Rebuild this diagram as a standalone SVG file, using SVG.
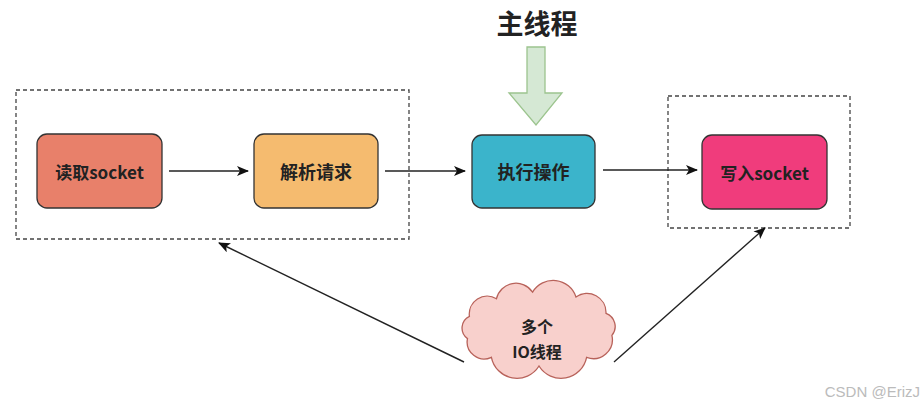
<svg xmlns="http://www.w3.org/2000/svg" width="923" height="406" viewBox="0 0 923 406">
<defs>
<style>
.lbl{font-family:"Noto Sans CJK SC","Liberation Sans",sans-serif;font-weight:bold;fill:#222;text-anchor:middle;dominant-baseline:central}
.node{stroke:#333;stroke-width:1.3}
.dash{fill:none;stroke:#444;stroke-width:1.3;stroke-dasharray:4 3}
.conn{fill:none;stroke:#222;stroke-width:1.4}
</style>
<marker id="ah" viewBox="0 0 12 10" refX="11" refY="5" markerWidth="12" markerHeight="10" markerUnits="userSpaceOnUse" orient="auto">
<path d="M0,0 L12,5 L0,10 L3,5 Z" fill="#111"/>
</marker>
</defs>
<rect width="923" height="406" fill="#fff"/>
<g id="group-left"><rect class="dash" x="16" y="90" width="393" height="149"/></g>
<g id="group-right"><rect class="dash" x="668" y="96" width="182" height="132"/></g>
<g id="connectors">
<line class="conn" x1="169" y1="171" x2="248" y2="171" marker-end="url(#ah)"/>
<line class="conn" x1="385" y1="171" x2="465" y2="171" marker-end="url(#ah)"/>
<line class="conn" x1="603" y1="170" x2="697" y2="170" marker-end="url(#ah)"/>
<line class="conn" x1="464" y1="362" x2="219" y2="243" marker-end="url(#ah)"/>
<line class="conn" x1="614" y1="362" x2="765" y2="228" marker-end="url(#ah)"/>
</g>
<g id="main-thread">
<text class="lbl" x="537" y="22" font-size="27">主线程</text>
<polygon points="527,47 545,47 545,93 562,93 536,125 509,93 527,93" fill="#D5E8D4" stroke="#9CC48E" stroke-width="1.3"/>
</g>
<g id="read-socket"><rect class="node" x="37" y="134" width="125" height="74" rx="10" fill="#E8806A"/><text class="lbl" x="99.5" y="171" font-size="17">读取socket</text></g>
<g id="parse-request"><rect class="node" x="254" y="134" width="124" height="74" rx="10" fill="#F5BB6F"/><text class="lbl" x="316" y="171" font-size="18">解析请求</text></g>
<g id="execute"><rect class="node" x="472" y="135" width="123" height="73" rx="10" fill="#3BB4CB"/><text class="lbl" x="533.5" y="171" font-size="18">执行操作</text></g>
<g id="write-socket"><rect class="node" x="702" y="135" width="125" height="74" rx="10" fill="#F03C7C"/><text class="lbl" x="764.5" y="172" font-size="17">写入socket</text></g>
<g id="io-threads">
<path d="M469.4,316.3 A18,18 0 0 1 496.5,298.7 A20,20 0 0 1 532.6,292.1 A24,24 0 0 1 576,297 A19,19 0 0 1 606,313.3 A14,14 0 0 1 611.9,335.4 A19,19 0 0 1 586.6,357.3 A26,26 0 0 1 539,366 A26,26 0 0 1 491.4,357.3 A17,17 0 0 1 467.5,338.6 A13,13 0 0 1 469.4,316.3 Z" fill="#F8D0CC" stroke="#B8625A" stroke-width="1.3"/>
<text class="lbl" x="537" y="326" font-size="16">多个</text>
<text class="lbl" x="537" y="351" font-size="16">IO线程</text>
</g>
<text x="920" y="397" font-family="Liberation Sans,Arial,sans-serif" font-size="15" fill="#bbb" text-anchor="end">CSDN @ErizJ</text>
</svg>
